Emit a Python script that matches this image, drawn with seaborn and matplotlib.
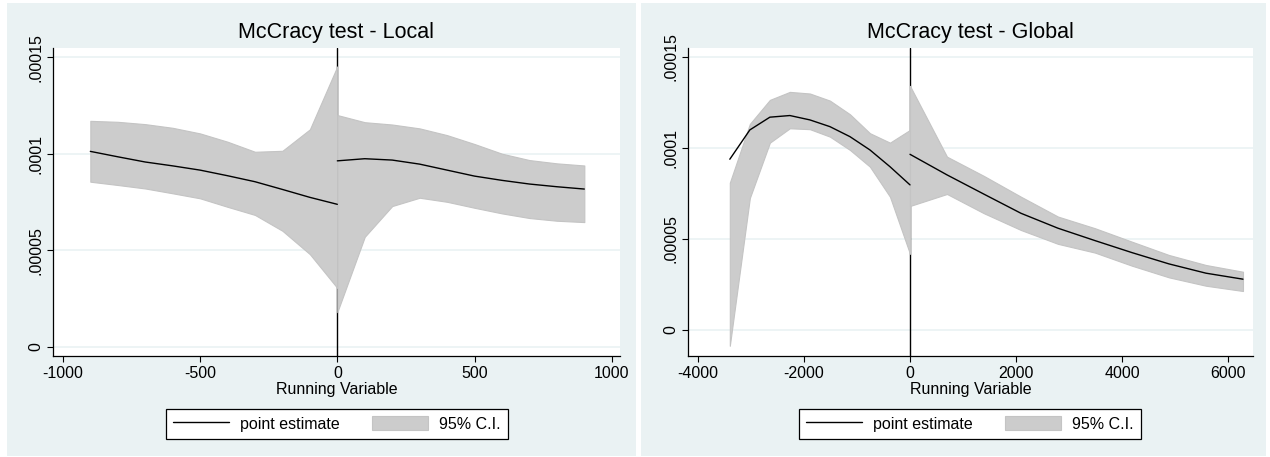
import numpy as np
import matplotlib
matplotlib.use("Agg")
import matplotlib.pyplot as plt
from matplotlib.patches import Rectangle, Patch
from matplotlib.lines import Line2D
import seaborn as sns

# values in units of 1e-4
# local panel
loc_x_left = [-900, -800, -700, -600, -500, -400, -300, -200, -100, 0]
loc_est_left = [1.012, 0.984, 0.957, 0.937, 0.915, 0.886, 0.855, 0.815, 0.774, 0.738]
loc_hi_left = [1.170, 1.165, 1.153, 1.134, 1.105, 1.062, 1.010, 1.015, 1.126, 1.452]
loc_lo_left = [0.855, 0.838, 0.820, 0.795, 0.769, 0.725, 0.683, 0.601, 0.480, 0.305]

loc_x_right = [0, 100, 200, 300, 400, 500, 600, 700, 800, 900]
loc_est_right = [0.963, 0.974, 0.967, 0.946, 0.915, 0.884, 0.862, 0.843, 0.829, 0.817]
loc_hi_right = [1.200, 1.163, 1.151, 1.131, 1.096, 1.050, 1.000, 0.967, 0.950, 0.939]
loc_lo_right = [0.180, 0.570, 0.729, 0.772, 0.751, 0.720, 0.691, 0.667, 0.653, 0.646]

# global panel
glb_x_left = [-3400, -3022, -2644, -2267, -1889, -1511, -1133, -756, -378, 0]
glb_est_left = [0.938, 1.099, 1.169, 1.178, 1.154, 1.117, 1.062, 0.989, 0.897, 0.797]
glb_hi_left = [0.809, 1.132, 1.264, 1.308, 1.299, 1.260, 1.185, 1.081, 1.029, 1.099]
glb_lo_left = [-0.087, 0.725, 1.029, 1.108, 1.103, 1.062, 0.989, 0.897, 0.732, 0.418]

glb_x_right = [0, 698, 1396, 2094, 2792, 3490, 4188, 4886, 5584, 6283]
glb_est_right = [0.965, 0.852, 0.746, 0.641, 0.559, 0.491, 0.425, 0.363, 0.312, 0.279]
glb_hi_right = [1.341, 0.952, 0.846, 0.732, 0.623, 0.559, 0.485, 0.412, 0.357, 0.320]
glb_lo_right = [0.681, 0.747, 0.641, 0.549, 0.473, 0.425, 0.353, 0.289, 0.243, 0.214]

y_ticks = [0, 0.00005, 0.0001, 0.00015]
y_tick_labels = ["0", ".00005", ".0001", ".00015"]
loc_x_ticks = [-1000, -500, 0, 500, 1000]
glb_x_ticks = [-4000, -2000, 0, 2000, 4000, 6000]

sns.set_style("white")
plt.rcParams["font.family"] = ["Liberation Sans", "DejaVu Sans"]
plt.rcParams["text.color"] = "black"
plt.rcParams["axes.labelcolor"] = "black"
plt.rcParams["xtick.color"] = "black"
plt.rcParams["ytick.color"] = "black"

BG = "#eaf2f3"
BAND = "#cccccc"
W, H = 1270, 457
fig = plt.figure(figsize=(W / 100, H / 100), dpi=100)
fig.patch.set_facecolor("white")


def px_rect(x0, y0, x1, y1):
    # pixel box (top-left origin) -> figure fraction [l, b, w, h]
    return [x0 / W, 1 - y1 / H, (x1 - x0) / W, (y1 - y0) / H]


# panel backgrounds, kept behind the axes
for x0, x1 in [(7, 636), (641, 1266)]:
    l, b, w, h = px_rect(x0, 3, x1, 456)
    fig.patches.append(Rectangle((l, b), w, h, transform=fig.transFigure,
                                 facecolor=BG, edgecolor="none", zorder=-5))


def draw_panel(rect, title, segments, xlim, ylim, xticks, legend_cx):
    ax = fig.add_axes(px_rect(*rect))
    ax.set_zorder(1)
    ax.set_facecolor("white")
    ax.axvline(0, color="black", lw=1.0, zorder=1)
    for xs, est, lo, hi in segments:
        lo = np.array(lo) * 1e-4
        hi = np.array(hi) * 1e-4
        est = np.array(est) * 1e-4
        ax.fill_between(xs, lo, hi, color=BAND, edgecolor="#c4c4c4",
                        lw=0.8, zorder=2)
        sns.lineplot(x=xs, y=est, ax=ax, color="black", lw=1.0,
                     sort=False, zorder=3)
    ax.set_xlim(*xlim)
    ax.set_ylim(*ylim)
    ax.set_xticks(xticks)
    ax.set_xticklabels([str(t) for t in xticks])
    ax.set_yticks(y_ticks)
    ax.set_yticklabels(y_tick_labels, rotation=90, va="center")
    ax.grid(axis="y", color=BG, lw=1.2)
    ax.grid(axis="x", visible=False)
    ax.set_axisbelow(True)
    for s in ["top", "right"]:
        ax.spines[s].set_visible(False)
    for s in ["left", "bottom"]:
        ax.spines[s].set_color("black")
        ax.spines[s].set_linewidth(0.9)
    ax.tick_params(axis="both", direction="out", length=4, width=0.8,
                   color="black", labelsize=11.5, pad=3,
                   left=True, bottom=True)
    ax.set_title(title, fontsize=15.5, pad=7)
    ax.set_xlabel("Running Variable", fontsize=11.5, labelpad=1)
    ax.set_ylabel("")

    handles = [Line2D([], [], color="black", lw=1.0),
               Patch(facecolor=BAND, edgecolor="#c4c4c4", lw=0.8)]
    leg = fig.legend(handles, ["point estimate", "95% C.I."], ncol=2,
                     loc="upper center",
                     bbox_to_anchor=(legend_cx / W, 1 - 409 / H),
                     bbox_transform=fig.transFigure,
                     fontsize=11.5, frameon=True, fancybox=False,
                     edgecolor="black", facecolor="white", framealpha=1,
                     handlelength=3.5, handleheight=1.0, handletextpad=0.7,
                     columnspacing=2.0, borderpad=0.45, borderaxespad=0)
    leg.get_frame().set_linewidth(0.9)
    return ax


draw_panel((53, 48, 620, 356), "McCracy test - Local",
           [(loc_x_left, loc_est_left, loc_lo_left, loc_hi_left),
            (loc_x_right, loc_est_right, loc_lo_right, loc_hi_right)],
           (-1036, 1030), (-0.0000047, 0.0001547), loc_x_ticks, 337)

draw_panel((688, 48, 1253, 356), "McCracy test - Global",
           [(glb_x_left, glb_est_left, glb_lo_left, glb_hi_left),
            (glb_x_right, glb_est_right, glb_lo_right, glb_hi_right)],
           (-4189, 6472), (-0.0000143, 0.0001549), glb_x_ticks, 970)

fig.savefig("out.png", dpi=100, facecolor="white")
